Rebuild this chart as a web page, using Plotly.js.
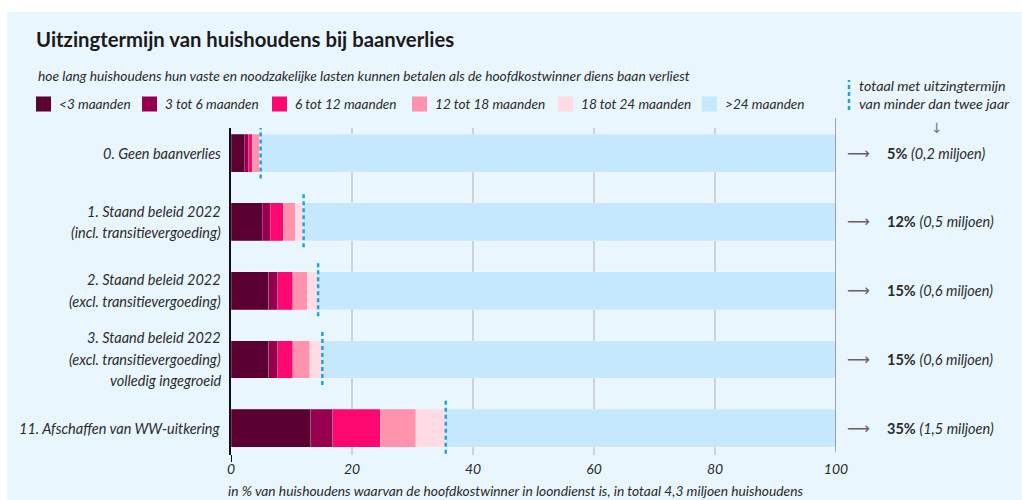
<!DOCTYPE html>
<html>
<head>
<meta charset="utf-8">
<script src="https://cdn.plot.ly/plotly-3.0.1.min.js"></script>
<style>
  html, body { margin: 0; padding: 0; background: #fff; }
  #chart { width: 1022px; height: 500px; }
</style>
</head>
<body>
<div id="chart"></div>
<script>
// scenario's (regels van het label)
const scenarioLines = [
  ["0. Geen baanverlies"],
  ["1. Staand beleid 2022", "(incl. transitievergoeding)"],
  ["2. Staand beleid 2022", "(excl. transitievergoeding)"],
  ["3. Staand beleid 2022", "(excl. transitievergoeding)", "volledig ingegroeid"],
  ["11. Afschaffen van WW-uitkering"]
];

// uitzingtermijn-klassen
const termijnen = ["<3 maanden", "3 tot 6 maanden", "6 tot 12 maanden", "12 tot 18 maanden", "18 tot 24 maanden", ">24 maanden"];
const kleuren = ["#5a0032", "#97004f", "#fd0870", "#ff93ae", "#ffdbe4", "#c6e8fc"];

// aandeel huishoudens per klasse (%)
const minder3 = [2.2, 5.2, 6.2, 6.2, 13.2];
const van3tot6 = [0.7, 1.3, 1.5, 1.5, 3.6];
const van6tot12 = [0.6, 2.1, 2.5, 2.5, 7.9];
const van12tot18 = [1.2, 2.0, 2.4, 2.8, 5.8];
const van18tot24 = [0.2, 1.4, 1.8, 2.1, 5.0];

// totaal met uitzingtermijn < 2 jaar
const totaalPct = [5, 12, 15, 15, 35];
const totaalMiljoen = ["0,2", "0,5", "0,6", "0,6", "1,5"];

const xTicks = [0, 20, 40, 60, 80, 100];

// linkerkant van elk legendavakje (px vanaf links)
const legendaX = [36, 142, 272, 412, 558, 702];

const rows = scenarioLines.map((_, i) => i);
const onder2jaar = rows.map(i => minder3[i] + van3tot6[i] + van6tot12[i] + van12tot18[i] + van18tot24[i]);
const boven24 = onder2jaar.map(v => 100 - v);
const reeksen = [minder3, van3tot6, van6tot12, van12tot18, van18tot24, boven24];

const font = "Lato, 'Open Sans', sans-serif";
const tekst = "#2b2b2b";

// plotgebied in px, voor omrekenen naar paper-coördinaten
const plotL = 231, plotW = 605, plotB = 455, plotH = 327;
const px = v => (v - plotL) / plotW;
const py = v => (plotB - v) / plotH;

// gestapelde balken
const traces = reeksen.map((vals, k) => ({
  type: "bar",
  orientation: "h",
  name: termijnen[k],
  x: vals,
  y: rows,
  marker: { color: kleuren[k], line: { color: "rgba(255,255,255,0.35)", width: 0.6 } },
  hoverinfo: "skip"
}));

// blauwe stippellijn op het totaal < 2 jaar
rows.forEach(i => {
  traces.push({
    type: "scatter",
    mode: "lines",
    x: [onder2jaar[i], onder2jaar[i]],
    y: [i - 0.4, i + 0.4],
    line: { color: "#1aa3ec", width: 2.5, dash: "4px,3px" },
    hoverinfo: "skip"
  });
});

const annotations = [];
const shapes = [
  // lichtblauwe achtergrond van de kaart
  {
    type: "rect", xref: "paper", yref: "paper", layer: "below",
    x0: px(7), x1: px(1030), y0: py(505), y1: py(12),
    fillcolor: "#eaf6fd", line: { width: 0 }
  },
  // 100%-lijn
  {
    type: "line", xref: "x", yref: "paper", layer: "above",
    x0: 100, x1: 100, y0: 0.01, y1: 1.03,
    line: { color: "#8a8a8a", width: 1.5 }
  },
  // verlengde y-as tot aan de 0
  {
    type: "line", xref: "x", yref: "paper", layer: "above",
    x0: 0, x1: 0, y0: py(462), y1: 0,
    line: { color: "#111", width: 2 }
  },
  // stippelstreepje bij de kop rechtsboven
  {
    type: "line", xref: "paper", yref: "paper",
    x0: px(849), x1: px(849), y0: py(110), y1: py(80),
    line: { color: "#1aa3ec", width: 2.5, dash: "4px,3px" }
  }
];

// handmatige legenda
termijnen.forEach((t, k) => {
  shapes.push({
    type: "rect", xref: "paper", yref: "paper",
    x0: px(legendaX[k]), x1: px(legendaX[k] + 15),
    y0: py(111.5), y1: py(96.5),
    fillcolor: kleuren[k], line: { width: 0 }
  });
  annotations.push({
    xref: "paper", yref: "paper", x: px(legendaX[k] + 21), y: py(104),
    xanchor: "left", yanchor: "middle",
    text: "<i>" + t + "</i>", showarrow: false,
    font: { family: font, size: 13.6, color: tekst }
  });
});

// y-labels, één regel per annotatie
scenarioLines.forEach((lines, i) => {
  const n = lines.length;
  lines.forEach((line, j) => {
    annotations.push({
      xref: "paper", yref: "y", x: px(223), y: i,
      xanchor: "right", yanchor: "middle",
      yshift: ((n - 1) / 2 - j) * 21.5,
      text: "<i>" + line + "</i>",
      showarrow: false,
      font: { family: font, size: 14.5, color: tekst }
    });
  });
});

// pijl + totaal rechts
rows.forEach(i => {
  annotations.push({
    xref: "paper", yref: "y", x: px(858), y: i, xanchor: "center", yanchor: "middle",
    text: "⟶", showarrow: false,
    font: { family: "DejaVu Sans", size: 16, color: "#6b5f5f" }
  });
  annotations.push({
    xref: "paper", yref: "y", x: px(885), y: i, xanchor: "left", yanchor: "middle",
    text: "<b>" + totaalPct[i] + "%</b> <i>(" + totaalMiljoen[i] + " miljoen)</i>",
    showarrow: false,
    font: { family: font, size: 14.5, color: tekst }
  });
});

annotations.push(
  {
    xref: "paper", yref: "paper", x: px(36), y: py(75), xanchor: "left", yanchor: "middle",
    text: "<i>hoe lang huishoudens hun vaste en noodzakelijke lasten kunnen betalen als de hoofdkostwinner diens baan verliest</i>",
    showarrow: false, font: { family: font, size: 13.8, color: tekst }
  },
  {
    xref: "paper", yref: "paper", x: px(857), y: py(85), xanchor: "left", yanchor: "middle",
    text: "<i>totaal met uitzingtermijn</i>", showarrow: false,
    font: { family: font, size: 14.3, color: tekst }
  },
  {
    xref: "paper", yref: "paper", x: px(857), y: py(103), xanchor: "left", yanchor: "middle",
    text: "<i>van minder dan twee jaar</i>", showarrow: false,
    font: { family: font, size: 14.3, color: tekst }
  },
  {
    xref: "paper", yref: "paper", x: px(937), y: py(128), xanchor: "center", yanchor: "middle",
    text: "↓", showarrow: false,
    font: { family: "DejaVu Sans", size: 14, color: "#777" }
  },
  // x-as-titel (staat iets links van het midden)
  {
    xref: "paper", yref: "paper", x: px(226), y: py(490), xanchor: "left", yanchor: "middle",
    text: "<i>in % van huishoudens waarvan de hoofdkostwinner in loondienst is, in totaal 4,3 miljoen huishoudens</i>",
    showarrow: false, font: { family: font, size: 13.8, color: tekst }
  }
);

const layout = {
  width: 1022,
  height: 500,
  margin: { l: plotL, r: 1022 - plotL - plotW, t: plotB - plotH, b: 500 - plotB },
  paper_bgcolor: "#ffffff",
  plot_bgcolor: "rgba(0,0,0,0)",
  barmode: "stack",
  bargap: 0.45,
  showlegend: false,
  title: {
    text: "<b>Uitzingtermijn van huishoudens bij baanverlies</b>",
    x: 36 / 1022, xanchor: "left", xref: "container",
    y: 1 - 40 / 500, yanchor: "middle", yref: "container",
    font: { family: font, size: 20.3, color: "#1a1a1a" }
  },
  xaxis: {
    range: [0, 100],
    tickvals: xTicks,
    ticktext: xTicks.map(String),
    showgrid: true,
    gridcolor: "#cfd3d6",
    gridwidth: 1.2,
    zeroline: false,
    showline: false,
    ticks: "",
    ticklabelstandoff: 4,
    tickfont: { family: font, size: 14, color: tekst, style: "italic" },
    fixedrange: true
  },
  yaxis: {
    range: [4.39, -0.365],
    showticklabels: false,
    showgrid: false,
    zeroline: false,
    showline: true,
    linecolor: "#111",
    linewidth: 2,
    ticks: "",
    fixedrange: true
  },
  shapes: shapes,
  annotations: annotations
};

Plotly.newPlot("chart", traces, layout, { staticPlot: true, displayModeBar: false });
</script>
</body>
</html>
